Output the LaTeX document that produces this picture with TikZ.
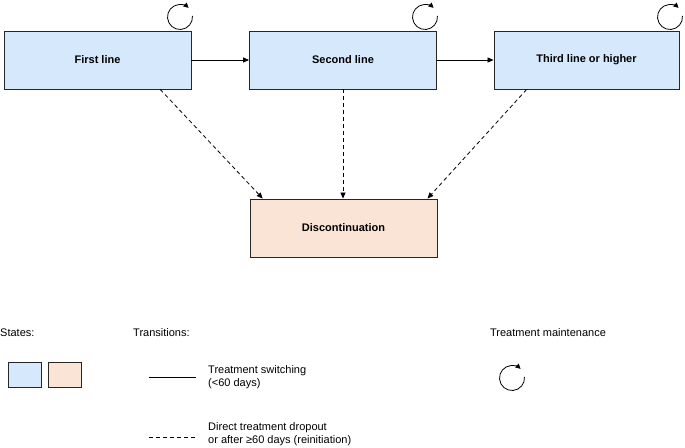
\documentclass[tikz,border=0pt]{standalone}
\usepackage{fontspec}
\setmainfont{Liberation Sans}
\usetikzlibrary{arrows.meta,calc}
\definecolor{stateblue}{HTML}{D6E8FC}
\definecolor{statepeach}{HTML}{FAE4D6}
\definecolor{edgegray}{HTML}{262626}
\begin{document}
\begin{tikzpicture}[x=1pt,y=1pt,
  statebox/.style={draw=edgegray,line width=0.9pt,minimum width=187pt,minimum height=58pt,inner sep=0pt,font=\fontsize{11}{13}\selectfont\bfseries},
  swatch/.style={draw=edgegray,line width=0.9pt,minimum width=33pt,minimum height=25pt,inner sep=0pt},
  solidarrow/.style={line width=0.8pt,-{Triangle[length=6pt,width=5pt]}},
  dasharrow/.style={line width=0.8pt,dash pattern=on 4pt off 3pt,-{Triangle[length=6pt,width=5pt]}},
  cyclearrow/.style={line width=0.8pt,-{Triangle[length=5pt,width=5pt]}},
  legendtext/.style={font=\fontsize{11}{13}\selectfont,inner sep=0pt,align=left}]
\useasboundingbox (0,0) rectangle (685,-447);

\node[statebox,fill=stateblue] (b1) at (97.5,-60) {First line};
\node[statebox,fill=stateblue] (b2) at (343,-60) {Second line};
\node[statebox,fill=stateblue,minimum width=185pt] (b3) at (586.5,-60) {Third line or higher};
\node[statebox,fill=statepeach] (d) at (343.5,-228) {Discontinuation};

\draw[solidarrow] (b1.east) -- (b2.west);
\draw[solidarrow] (b2.east) -- (b3.west);

\draw[dasharrow] ($(b1.south west)!0.834!(b1.south east)$) -- ($(d.north west)!0.07!(d.north east)$);
\draw[dasharrow] (b2.south) -- (b2.south |- d.north);
\draw[dasharrow] ($(b3.south west)!0.178!(b3.south east)$) -- ($(d.north west)!0.947!(d.north east)$);

% maintenance icons
\foreach \n/\cx/\cy in {c1/180/-17, c2/425/-17, c3/670/-17, c4/512/-378}{
  \coordinate (\n) at (\cx,\cy);
  \draw[cyclearrow] ($(\n)+(5:12.5)$) arc[start angle=5,end angle=-313,radius=12.5];
}

% legend
\node[legendtext,anchor=west] (lstates) at (0,-333) {States:};
\node[legendtext,anchor=west] (ltrans) at (133,-333) {Transitions:};
\node[legendtext] (lmaint) at (548,-333) {Treatment maintenance};

\node[swatch,fill=stateblue] (s1) at (25,-374.5) {};
\node[swatch,fill=statepeach] (s2) at (64.5,-374.5) {};

\coordinate (l1a) at (149,-377);
\coordinate (l1b) at (196,-377);
\draw[line width=0.8pt] (l1a) -- (l1b);
\node[legendtext,anchor=west] (t1) at (208,-377) {Treatment switching\\(<60 days)};

\coordinate (l2a) at (149,-437);
\coordinate (l2b) at (196,-437);
\draw[line width=0.8pt,dash pattern=on 4pt off 3pt] (l2a) -- (l2b);
\node[legendtext,anchor=west] (t2) at (208,-434) {Direct treatment dropout\\or after ≥60 days (reinitiation)};
\end{tikzpicture}
\end{document}
